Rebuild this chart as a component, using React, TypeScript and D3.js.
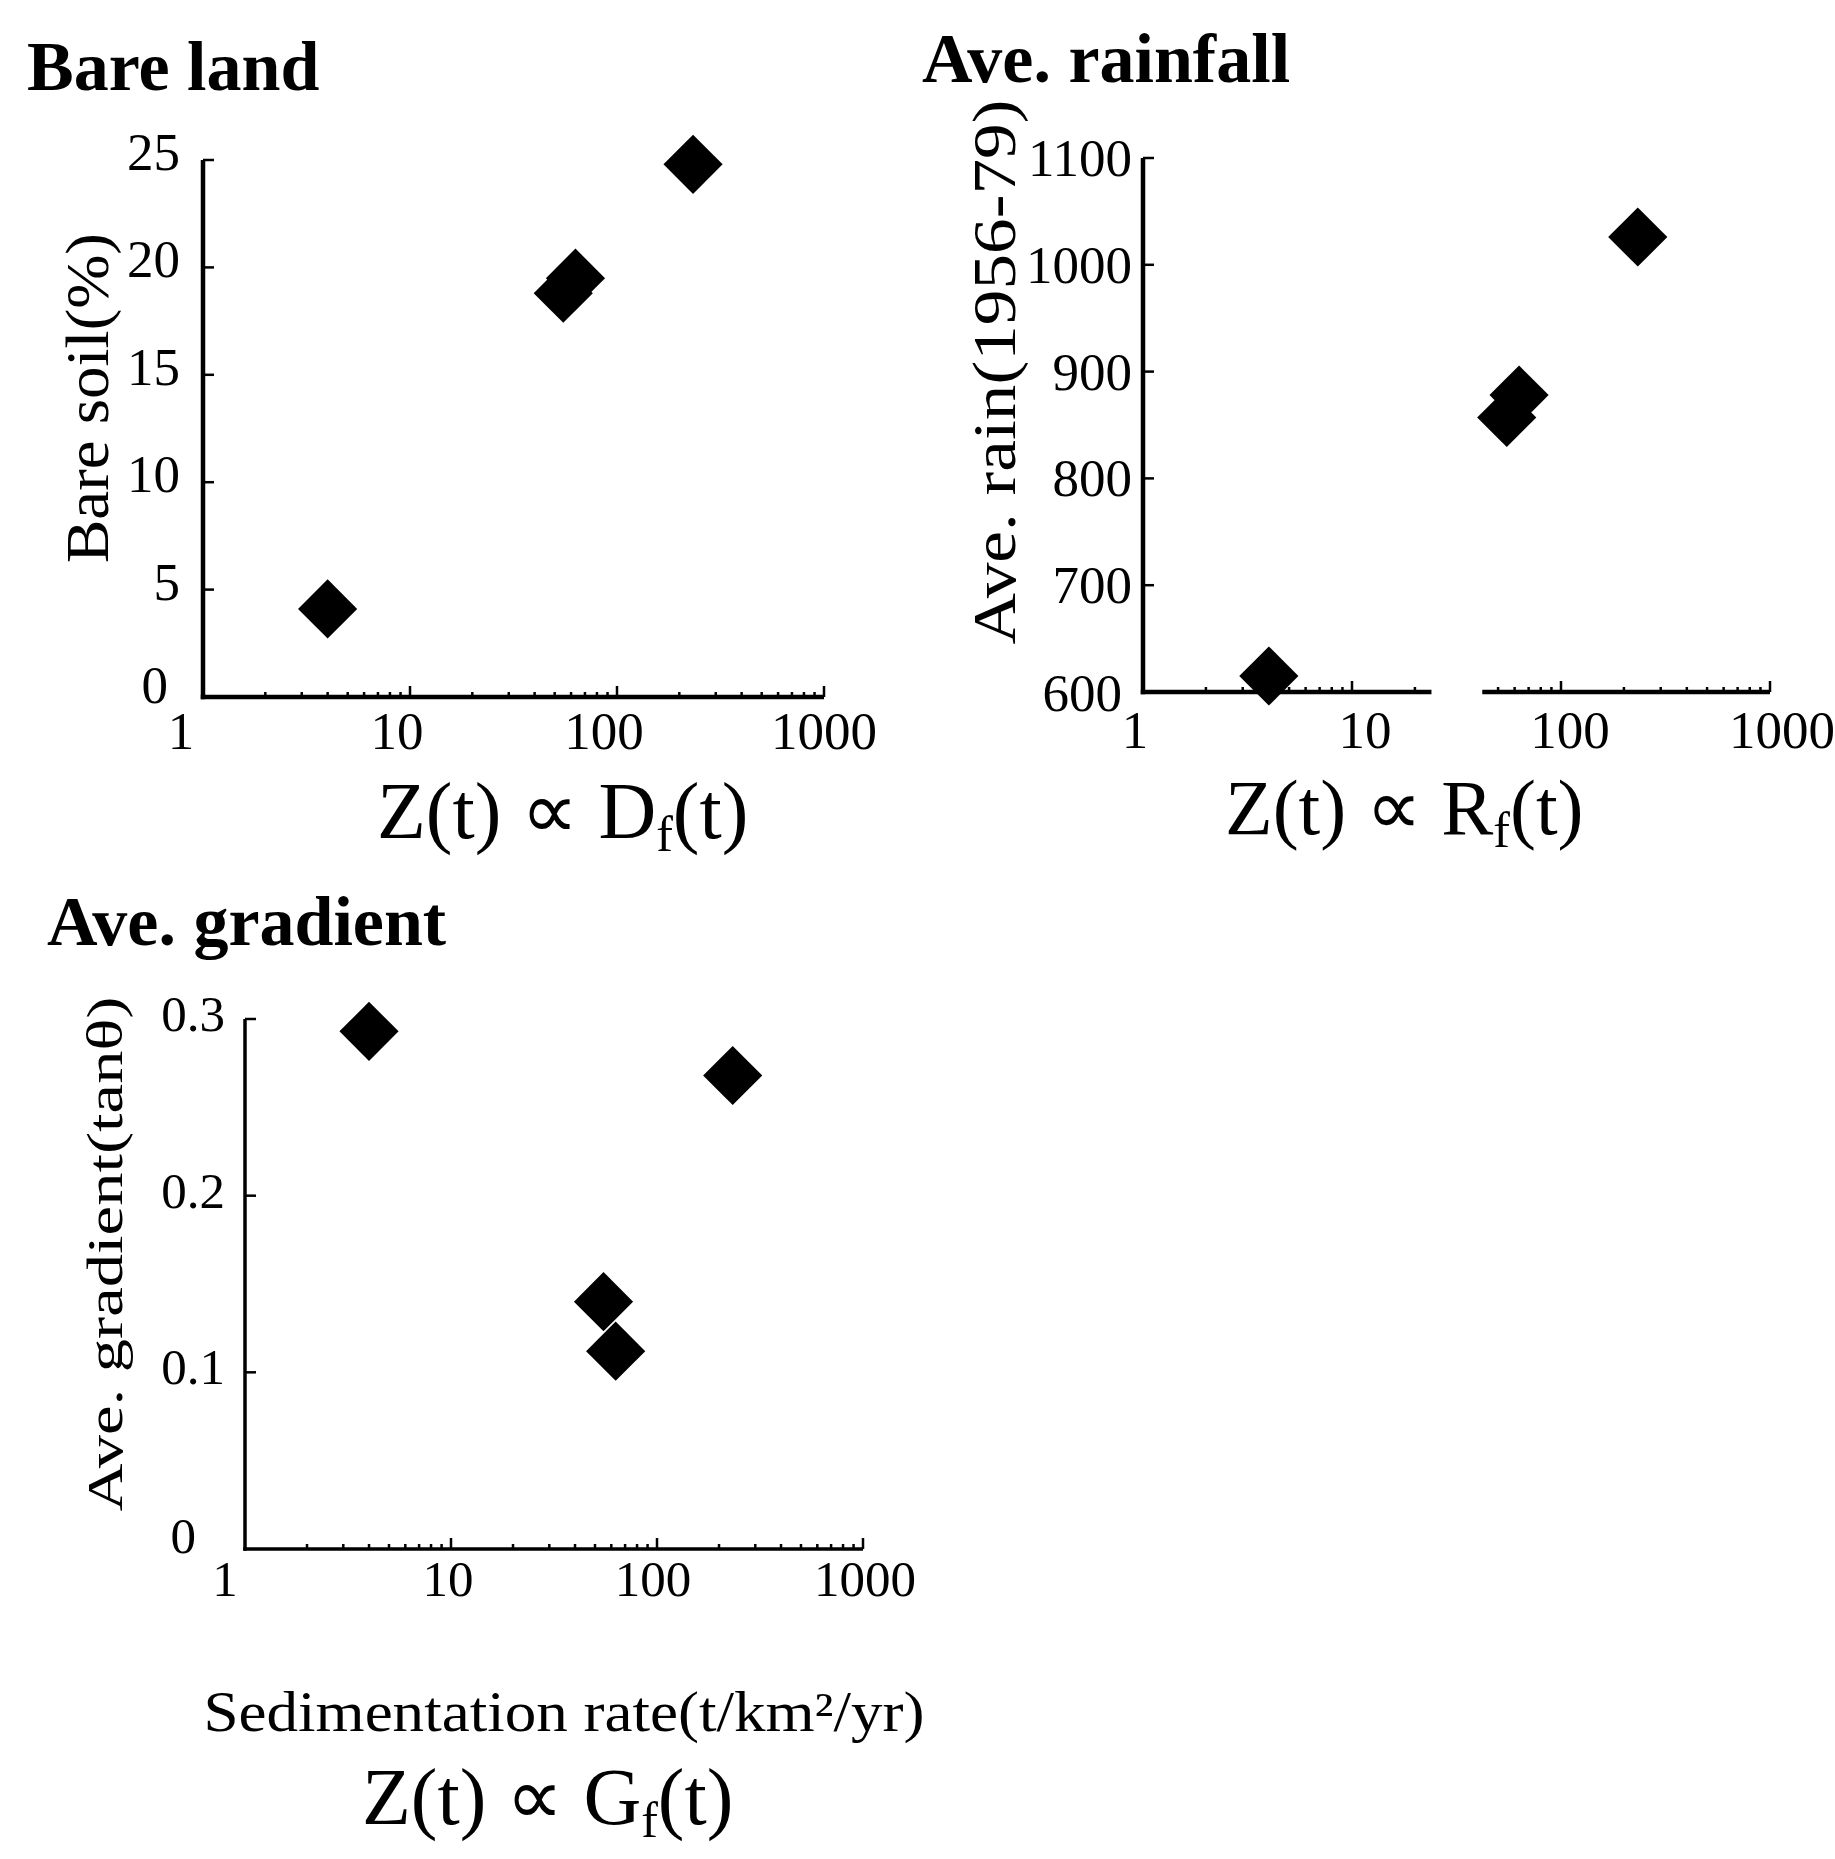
import * as d3 from "d3";
import { useEffect, useRef } from "react";

// sedimentation rate (t/km2/yr), same 4 basins in every panel
const sedRate = [4.0, 55, 63, 233];
const bareSoil = [4.1, 18.8, 19.5, 24.8];
const aveRain = [615, 857, 878, 1026];
const aveGrad = [0.293, 0.14, 0.112, 0.268];

const logTicks = [1, 10, 100, 1000];
const soilTicks = [0, 5, 10, 15, 20, 25];
const rainTicks = [600, 700, 800, 900, 1000, 1100];
const gradTicks = [0, 0.1, 0.2, 0.3];

const FONT = "'Liberation Serif', 'Times New Roman', serif";

function drawPanel(svg: any, p: any) {
  const g = svg.append("g");
  const x = d3.scaleLog().domain([1, 1000]).range(p.xr);
  const y = d3.scaleLinear().domain(p.yd).range(p.yr);
  const x0 = p.xr[0];
  const y0 = p.yr[0];

  // title
  g.append("text")
    .attr("x", p.title.x).attr("y", p.title.y)
    .style("font-family", FONT).style("font-weight", "bold").style("font-size", "70px")
    .text(p.title.text);

  // y axis line
  g.append("line")
    .attr("x1", x0).attr("x2", x0)
    .attr("y1", y0 + p.sw / 2).attr("y2", p.yr[1])
    .attr("stroke", "#000").attr("stroke-width", p.sw);

  // x axis line (rainfall panel has a break in it)
  const segs = p.gap ? [[1, p.gap[0]], [p.gap[1], 1000]] : [[1, 1000]];
  segs.forEach((s: number[]) => {
    g.append("line")
      .attr("x1", x(s[0]) - (s[0] === 1 ? p.sw / 2 : 0)).attr("x2", x(s[1]))
      .attr("y1", y0).attr("y2", y0)
      .attr("stroke", "#000").attr("stroke-width", p.sw);
  });

  // x ticks, minor + major, pointing up
  const xt = x.ticks().filter((t: number) => t > 1 && !(p.gap && t > p.gap[0] && t < p.gap[1]));
  g.selectAll(".xt").data(xt).enter().append("line")
    .attr("x1", (d: number) => x(d)).attr("x2", (d: number) => x(d))
    .attr("y1", y0)
    .attr("y2", (d: number) => y0 - (logTicks.includes(d) ? 11 : 5))
    .attr("stroke", "#000").attr("stroke-width", 2.5);

  // y ticks pointing right
  g.selectAll(".yt").data(p.yTicks.slice(1)).enter().append("line")
    .attr("x1", x0).attr("x2", x0 + 11)
    .attr("y1", (d: number) => y(d)).attr("y2", (d: number) => y(d))
    .attr("stroke", "#000").attr("stroke-width", 2.5);

  // y tick labels
  g.selectAll(".yl").data(p.yTicks).enter().append("text")
    .attr("x", (d: number, i: number) => (i === 0 ? p.zero.x : p.yLabX))
    .attr("y", (d: number, i: number) => (i === 0 ? p.zero.y : y(d) + p.yLabDy))
    .attr("text-anchor", "end")
    .style("font-family", FONT).style("font-size", p.tickSize + "px")
    .text((d: number) => p.yFmt(d));

  // x tick labels
  g.selectAll(".xl").data(logTicks).enter().append("text")
    .attr("x", (d: number, i: number) => x(d) + p.xLabDx[i])
    .attr("y", p.xLabY)
    .attr("text-anchor", "middle")
    .style("font-family", FONT).style("font-size", p.tickSize + "px")
    .text((d: number) => d);

  // y axis title
  g.append("text")
    .attr("transform", "translate(" + p.ylab.x + "," + p.ylab.cy + ") rotate(-90)")
    .attr("text-anchor", "middle")
    .attr("textLength", p.ylab.len).attr("lengthAdjust", "spacingAndGlyphs")
    .style("font-family", FONT).style("font-size", p.ylab.size + "px")
    .text(p.ylab.text);

  // x axis title  Z(t) ∝ Xf(t)
  const zt = g.append("text")
    .attr("x", p.xlab.x).attr("y", p.xlab.y)
    .style("font-family", FONT).style("font-size", p.xlab.size + "px");
  zt.append("tspan").text(p.xlab.main);
  zt.append("tspan").attr("dy", 13).style("font-size", "50px").text("f");
  zt.append("tspan").attr("dy", -13).text("(t)");

  if (p.xlab2) {
    g.append("text")
      .attr("x", p.xlab2.x).attr("y", p.xlab2.y)
      .attr("text-anchor", "middle")
      .attr("textLength", p.xlab2.len).attr("lengthAdjust", "spacingAndGlyphs")
      .style("font-family", FONT).style("font-size", "56px")
      .text(p.xlab2.text);
  }

  // points: filled diamonds
  g.selectAll(".pt").data(d3.zip(sedRate, p.vals)).enter().append("path")
    .attr("d", d3.symbol().type(d3.symbolSquare).size(1750))
    .attr("transform", (d: number[]) => "translate(" + x(d[0]) + "," + y(d[1]) + ") rotate(45)")
    .attr("fill", "#000");
}

export default function App() {
  const ref = useRef<SVGSVGElement>(null);

  useEffect(() => {
    const svg = d3.select(ref.current);
    svg.selectAll("*").remove();

    drawPanel(svg, {
      xr: [203, 824], yd: [0, 25], yr: [697, 160], sw: 4.5,
      title: { x: 27, y: 90, text: "Bare land" },
      yTicks: soilTicks, yFmt: (d: number) => String(d), vals: bareSoil,
      yLabX: 180, yLabDy: 10, zero: { x: 168, y: 703 }, tickSize: 53,
      xLabY: 749, xLabDx: [-22, -13, -13, 0],
      ylab: { text: "Bare soil(%)", x: 108, cy: 398, len: 330, size: 62 },
      xlab: { x: 377, y: 838, size: 80, main: "Z(t) \u221D D" },
    });

    drawPanel(svg, {
      xr: [1143, 1770], yd: [600, 1100], yr: [692, 158], sw: 4.5, gap: [24, 42],
      title: { x: 922, y: 82, text: "Ave. rainfall" },
      yTicks: rainTicks, yFmt: (d: number) => String(d), vals: aveRain,
      yLabX: 1132, yLabDy: 18, zero: { x: 1122, y: 711 }, tickSize: 53,
      xLabY: 748, xLabDx: [-8, 13, 9, 12],
      ylab: { text: "Ave. rain(1956-79)", x: 1015, cy: 372, len: 545, size: 62 },
      xlab: { x: 1225, y: 834, size: 78, main: "Z(t) \u221D R" },
    });

    drawPanel(svg, {
      xr: [245, 863], yd: [0, 0.3], yr: [1549, 1019], sw: 3.5,
      title: { x: 47, y: 945, text: "Ave. gradient" },
      yTicks: gradTicks, yFmt: (d: number) => (d === 0 ? "0" : d.toFixed(1)), vals: aveGrad,
      yLabX: 225, yLabDy: 12, zero: { x: 196, y: 1553 }, tickSize: 51,
      xLabY: 1596, xLabDx: [-20, -3, -4, 2],
      ylab: { text: "Ave. gradient(tan\u03B8)", x: 122, cy: 1254, len: 515, size: 50 },
      xlab: { x: 362, y: 1824, size: 80, main: "Z(t) \u221D  G" },
      xlab2: { x: 564, y: 1731, len: 721, text: "Sedimentation rate(t/km\u00B2/yr)" },
    });
  }, []);

  return (
    <svg
      ref={ref}
      width={1835}
      height={1859}
      style={{ position: "absolute", left: 0, top: 0, background: "#fff" }}
    />
  );
}
